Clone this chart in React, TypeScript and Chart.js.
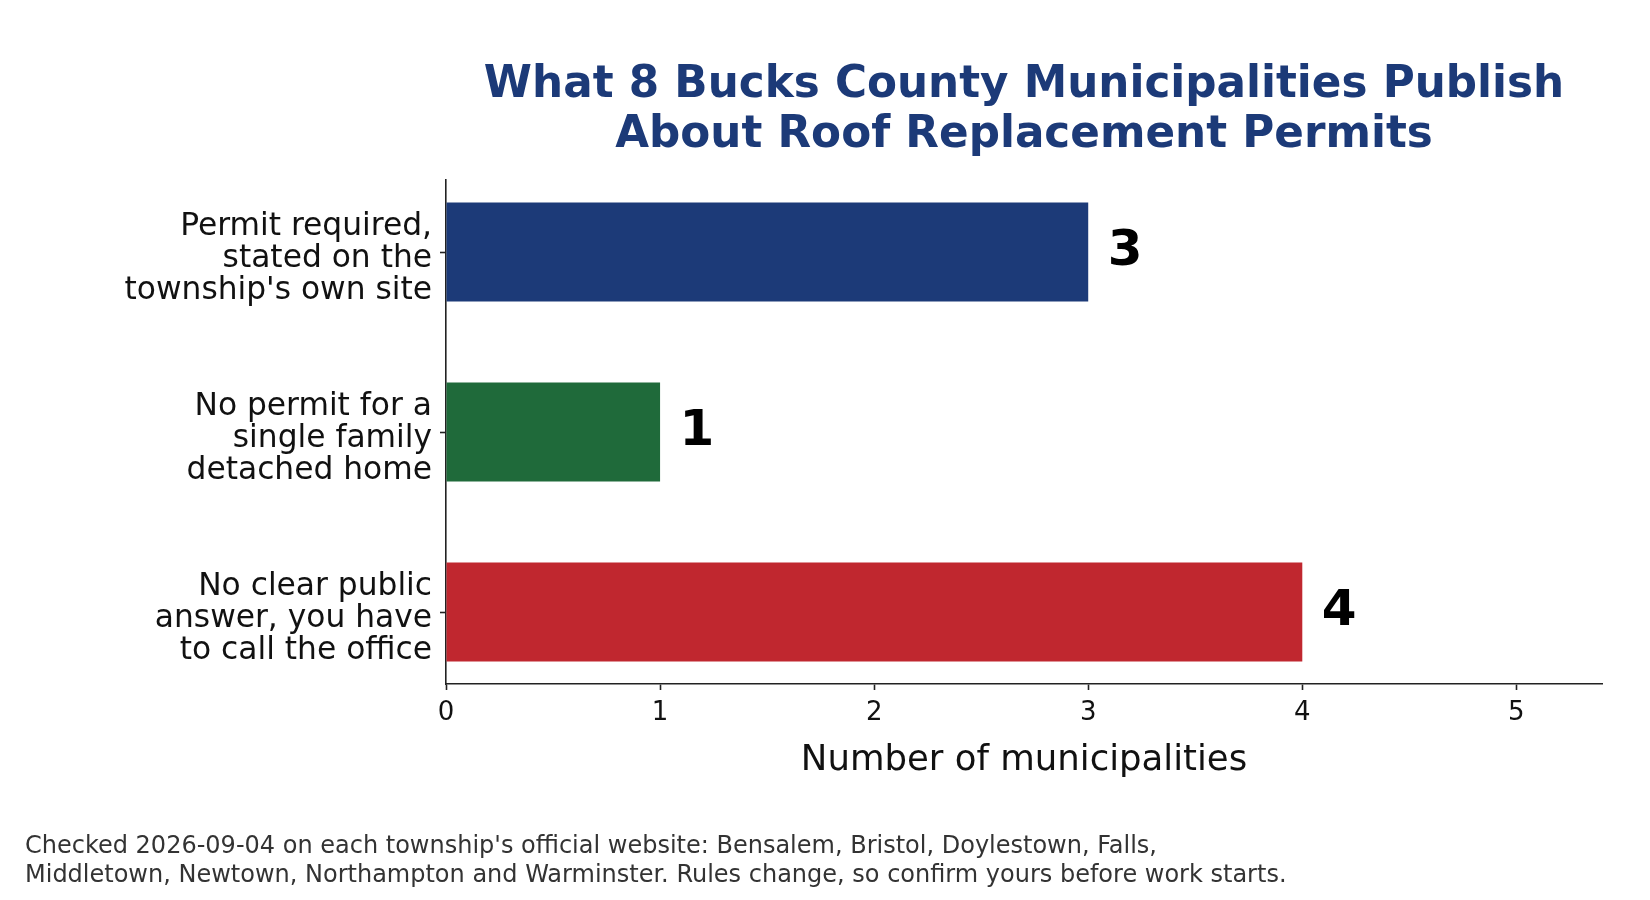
import React, { useEffect, useRef } from "react";
import { Chart, registerables } from "chart.js";

Chart.register(...registerables);

const categories = [
  ["Permit required,", "stated on the", "township's own site"],
  ["No permit for a", "single family", "detached home"],
  ["No clear public", "answer, you have", "to call the office"],
];
const counts = [3, 1, 4];
const barColors = ["#1c3a78", "#1f6a3a", "#c0272f"];
const xTicks = [0, 1, 2, 3, 4, 5];
const titleLines = [
  "What 8 Bucks County Municipalities Publish",
  "About Roof Replacement Permits",
];
const xTitle = "Number of municipalities";
const footnoteLines = [
  "Checked 2026-09-04 on each township's official website: Bensalem, Bristol, Doylestown, Falls,",
  "Middletown, Newtown, Northampton and Warminster. Rules change, so confirm yours before work starts.",
];

const FONT = "'DejaVu Sans', sans-serif";
const INK = "#222222";

// title over the plot area + footnote at the bottom left
const headerFooter = {
  id: "headerFooter",
  afterDraw(chart: Chart) {
    const { ctx, chartArea } = chart;
    ctx.save();
    ctx.textBaseline = "alphabetic";
    ctx.fillStyle = "#1c3a78";
    ctx.font = `bold 43.7px ${FONT}`;
    ctx.textAlign = "center";
    const cx = (chartArea.left + chartArea.right) / 2;
    titleLines.forEach((line, i) => ctx.fillText(line, cx, 97 + i * 49.5));
    ctx.fillStyle = "#333333";
    ctx.font = `24px ${FONT}`;
    ctx.textAlign = "left";
    footnoteLines.forEach((line, i) => ctx.fillText(line, 25, 853 + i * 28.5));
    ctx.restore();
  },
};

// bold count next to each bar
const valueLabels = {
  id: "valueLabels",
  afterDatasetsDraw(chart: Chart) {
    const { ctx } = chart;
    const meta = chart.getDatasetMeta(0);
    ctx.save();
    ctx.fillStyle = "#000000";
    ctx.font = `bold 50px ${FONT}`;
    ctx.textAlign = "left";
    ctx.textBaseline = "alphabetic";
    meta.data.forEach((bar: any, i: number) => {
      ctx.fillText(String(counts[i]), bar.x + 19.5, bar.y + 13);
    });
    ctx.restore();
  },
};

const PermitChart: React.FC = () => {
  const chartRef = useRef<HTMLCanvasElement | null>(null);

  useEffect(() => {
    document.body.style.margin = "0";
    if (!chartRef.current) return;

    const chart = new Chart(chartRef.current, {
      type: "bar",
      data: {
        datasets: [
          {
            data: counts.map((c, i) => ({ x: c, y: i })),
            backgroundColor: barColors,
            borderWidth: 0,
            categoryPercentage: 1,
            barPercentage: 0.55,
          },
        ],
      },
      options: {
        indexAxis: "y",
        animation: false,
        responsive: true,
        maintainAspectRatio: false,
        devicePixelRatio: 1,
        layout: { padding: { top: 180, right: 48, bottom: 116, left: 0 } },
        plugins: {
          legend: { display: false },
          tooltip: { enabled: false },
        },
        scales: {
          x: {
            type: "linear",
            min: 0,
            max: 5.4,
            afterBuildTicks: (scale: any) => {
              scale.ticks = xTicks.map((v) => ({ value: v }));
            },
            afterFit: (scale: any) => {
              scale.height = 100;
            },
            grid: {
              drawOnChartArea: false,
              drawTicks: true,
              offset: false,
              tickLength: 6,
              tickColor: INK,
              tickWidth: 1.6,
            },
            border: { display: true, color: INK, width: 1.6 },
            ticks: {
              color: "#111111",
              padding: 8,
              font: { family: FONT, size: 26 },
            },
            title: {
              display: true,
              text: xTitle,
              color: "#111111",
              font: { family: FONT, size: 35.5 },
              padding: { top: 0, bottom: 2 },
            },
          },
          y: {
            type: "linear",
            min: -0.4,
            max: 2.4,
            reverse: true,
            offset: false,
            afterBuildTicks: (scale: any) => {
              scale.ticks = categories.map((_, i) => ({ value: i }));
            },
            afterFit: (scale: any) => {
              scale.width = 446;
            },
            grid: {
              drawOnChartArea: false,
              drawTicks: true,
              offset: false,
              tickLength: 6,
              tickColor: INK,
              tickWidth: 1.6,
            },
            border: { display: true, color: INK, width: 1.6 },
            ticks: {
              autoSkip: false,
              color: "#111111",
              padding: 8,
              labelOffset: 7,
              font: { family: FONT, size: 31.3, lineHeight: 1.03 },
              callback: (value: any) => categories[value as number] ?? "",
            },
          },
        },
      },
      plugins: [valueLabels, headerFooter],
    });

    return () => {
      chart.destroy();
    };
  }, []);

  return (
    <div style={{ position: "relative", width: "1650px", height: "900px" }}>
      <canvas ref={chartRef} />
    </div>
  );
};

export default function App() {
  return <PermitChart />;
}
